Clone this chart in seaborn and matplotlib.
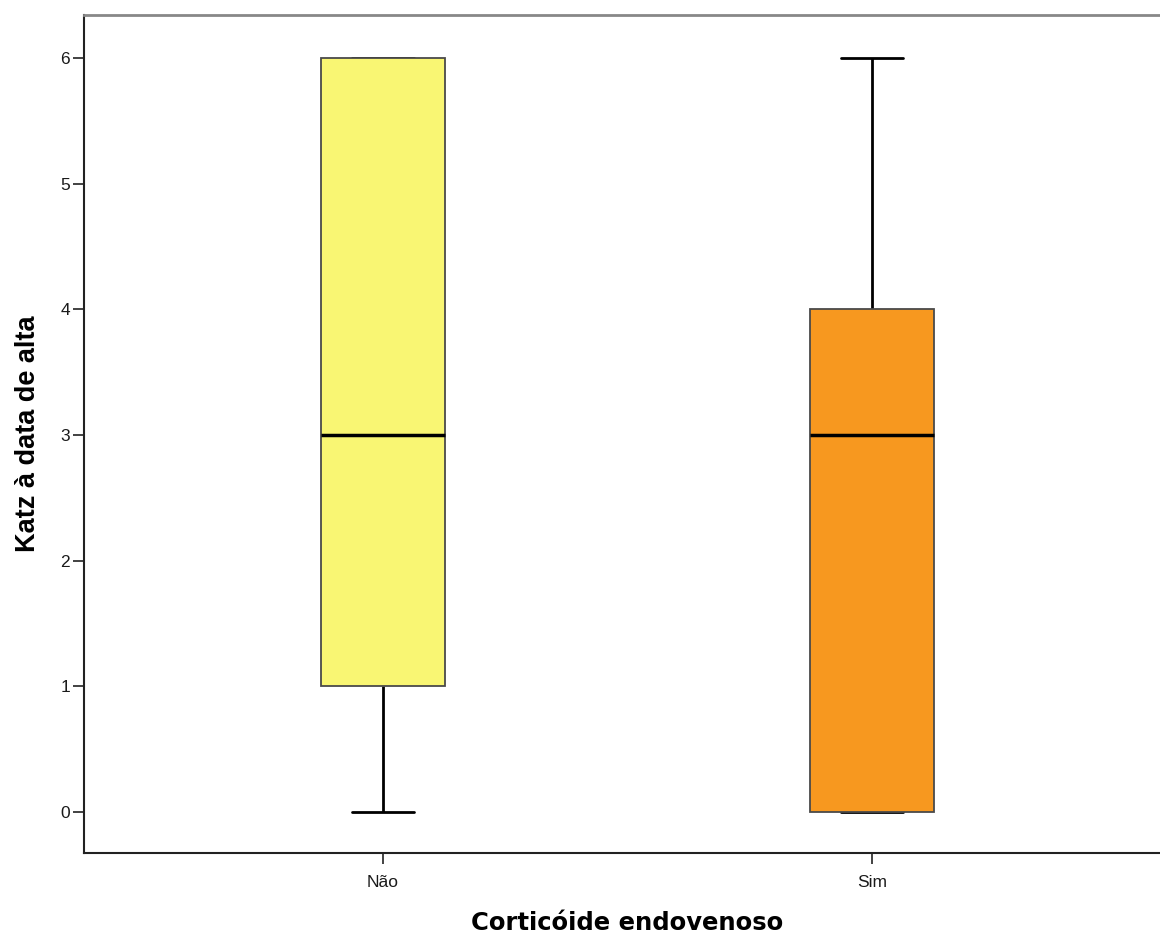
import numpy as np
import pandas as pd
import matplotlib
matplotlib.use("Agg")
import matplotlib.pyplot as plt
import seaborn as sns

# observations per group (chosen to give the quartiles shown in the picture)
nao_values = [0, 1, 1, 2, 3, 4, 6, 6, 6]
sim_values = [0, 0, 0, 2, 3, 3, 4, 5, 6]
categories = ["Não", "Sim"]
colors = ["#F9F673", "#F7981F"]

df = pd.DataFrame({
    "grupo": ["Não"] * len(nao_values) + ["Sim"] * len(sim_values),
    "katz": nao_values + sim_values,
})

sns.set_style("white")
plt.rcParams['font.family'] = ['Liberation Sans', 'DejaVu Sans']

fig = plt.figure(figsize=(11.6, 9.38), dpi=100)
ax = fig.add_axes([84 / 1160, 85 / 938, 1087 / 1160, 838 / 938])

sns.boxplot(data=df, x="grupo", y="katz", hue="grupo", order=categories,
            palette=dict(zip(categories, colors)), legend=False, saturation=1,
            width=0.252, whis=1.5, fliersize=0, ax=ax,
            boxprops=dict(edgecolor="#4a4a4a", linewidth=1.3, zorder=3),
            whiskerprops=dict(color="black", linewidth=2, zorder=2),
            capprops=dict(color="black", linewidth=2, zorder=2),
            medianprops=dict(color="black", linewidth=2.5, zorder=4))

ax.set_xlim(-0.611, 1.611)
ax.set_ylim(-0.326, 6.342)
ax.set_yticks(range(0, 7))

ax.spines['top'].set_color("#888888")
ax.spines['top'].set_linewidth(2)
ax.spines['left'].set_color("#222222")
ax.spines['left'].set_linewidth(1.5)
ax.spines['bottom'].set_color("#222222")
ax.spines['bottom'].set_linewidth(1.5)
ax.spines['right'].set_visible(False)

ax.tick_params(axis='both', direction='out', length=8, width=1.2, color="#222222",
               labelsize=12.5, labelcolor="#1a1a1a", left=True, bottom=True, pad=2)
ax.tick_params(axis='x', pad=8)

ax.set_xlabel("Corticóide endovenoso", fontsize=17.5, fontweight='bold',
              family=['DejaVu Sans'], labelpad=15, color="black")
ax.set_ylabel("Katz à data de alta", fontsize=19.5, fontweight='bold',
              labelpad=14, color="black")

fig.savefig("out.png", dpi=100)
